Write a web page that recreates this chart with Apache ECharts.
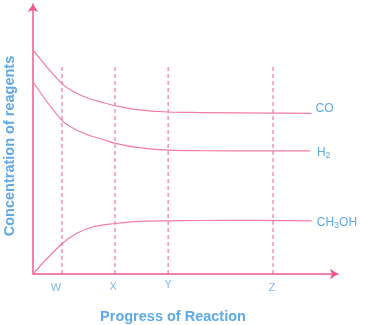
<!DOCTYPE html>
<html>
<head>
<meta charset="utf-8">
<script src="https://cdn.jsdelivr.net/npm/echarts@6/dist/echarts.min.js"></script>
<style>
  html, body { margin: 0; padding: 0; background: #ffffff; }
  #chart { width: 367px; height: 325px; }
</style>
</head>
<body>
<div id="chart"></div>
<script>
// Reaction progress (0-100) and concentration (0-100) points for each species
const progressCO = [0, 9.4, 13.8, 18.1, 22.5, 26.7, 33.4, 44.3, 54.8, 78.7, 91.3];
const concCO     = [83.0, 70.6, 67.2, 65.1, 63.6, 62.4, 61.0, 60.0, 59.8, 59.6, 59.5];

const progressH2 = [0, 9.4, 13.8, 18.1, 22.5, 26.7, 33.4, 44.3, 54.8, 78.7, 90.8];
const concH2     = [71.2, 57.0, 53.6, 51.5, 50.0, 48.5, 47.0, 45.9, 45.7, 45.6, 45.6];

const progressCH3OH = [0, 9.4, 14.4, 19.7, 26.9, 35.1, 44.3, 65.6, 91.4];
const concCH3OH     = [0, 11.1, 15.1, 17.5, 18.7, 19.5, 19.7, 19.9, 19.7];

// Marked stages along the reaction
const stageNames = ['W', 'X', 'Y', 'Z'];
const stageProgress = [9.5, 26.9, 44.3, 78.7];
const stageLineTop = 76.7;

const PINK_AXIS = '#f0588c';
const PINK_LINE = '#f27ca4';
const PINK_DASH = '#ec5a90';
const BLUE = '#5ea9e8';
const FONT = '"Liberation Sans", Arial, sans-serif';

// small per-stage label nudges
const stageLabelOffset = { W: [-6, 14], X: [-2, 13], Y: [0, 11], Z: [-1, 14] };

function zip(xs, ys) { return xs.map((x, i) => [x, ys[i]]); }

const richSub = {
  t: { color: BLUE, fontSize: 12, fontFamily: FONT },
  s: { color: BLUE, fontSize: 9, fontFamily: FONT, padding: [6, 0, 0, 0] }
};

function curve(name, data, labelText, offset) {
  return {
    name: name,
    type: 'line',
    data: data,
    smooth: 0.4,
    symbol: 'none',
    lineStyle: { color: PINK_LINE, width: 1.2 },
    endLabel: {
      show: true,
      formatter: labelText,
      rich: richSub,
      distance: 4,
      offset: offset
    },
    z: 3
  };
}

const chart = echarts.init(document.getElementById('chart'), null, { renderer: 'canvas' });

const stageLines = stageNames.map((n, i) => ({
  type: 'line',
  data: [[stageProgress[i], 0], [stageProgress[i], stageLineTop]],
  symbol: 'none',
  silent: true,
  lineStyle: { color: PINK_DASH, width: 1, type: [4, 3] },
  z: 2
}));

const stageLabels = {
  type: 'scatter',
  symbolSize: 0,
  silent: true,
  data: stageNames.map((n, i) => ({
    value: [stageProgress[i], 0],
    name: n,
    label: { offset: stageLabelOffset[n] }
  })),
  label: {
    show: true,
    position: 'inside',
    formatter: p => p.name,
    color: BLUE,
    fontSize: 11,
    fontFamily: FONT
  }
};

chart.setOption({
  animation: false,
  backgroundColor: '#ffffff',
  grid: { left: 33, right: 29, top: 4, bottom: 51, containLabel: false, outerBoundsMode: 'none' },
  xAxis: {
    type: 'value',
    min: 0,
    max: 100,
    name: 'Progress of Reaction',
    nameLocation: 'middle',
    nameGap: 35,
    nameTextStyle: { color: BLUE, fontSize: 14.5, fontWeight: 'bold', fontFamily: FONT, padding: [0, 25, 0, 0] },
    axisLine: { show: true, lineStyle: { color: PINK_AXIS, width: 1.5 }, symbol: ['none', 'arrow'], symbolSize: [8, 8] },
    axisTick: { show: false },
    axisLabel: { show: false },
    splitLine: { show: false }
  },
  yAxis: {
    type: 'value',
    min: 0,
    max: 100,
    name: 'Concentration of reagents',
    nameLocation: 'middle',
    nameGap: 16,
    nameTextStyle: { color: BLUE, fontSize: 14.5, fontWeight: 'bold', fontFamily: FONT, padding: [0, 14, 0, 0] },
    axisLine: { show: true, lineStyle: { color: PINK_AXIS, width: 1.5 }, symbol: ['none', 'arrow'], symbolSize: [8, 8] },
    axisTick: { show: false },
    axisLabel: { show: false },
    splitLine: { show: false }
  },
  series: [
    curve('CO', zip(progressCO, concCO), '{t|CO}', [0, -5]),
    curve('H2', zip(progressH2, concH2), '{t|H}{s|2}', [3, 2]),
    curve('CH3OH', zip(progressCH3OH, concCH3OH), '{t|CH}{s|3}{t|OH}', [1, 2]),
    ...stageLines,
    stageLabels
  ]
});
</script>
</body>
</html>
